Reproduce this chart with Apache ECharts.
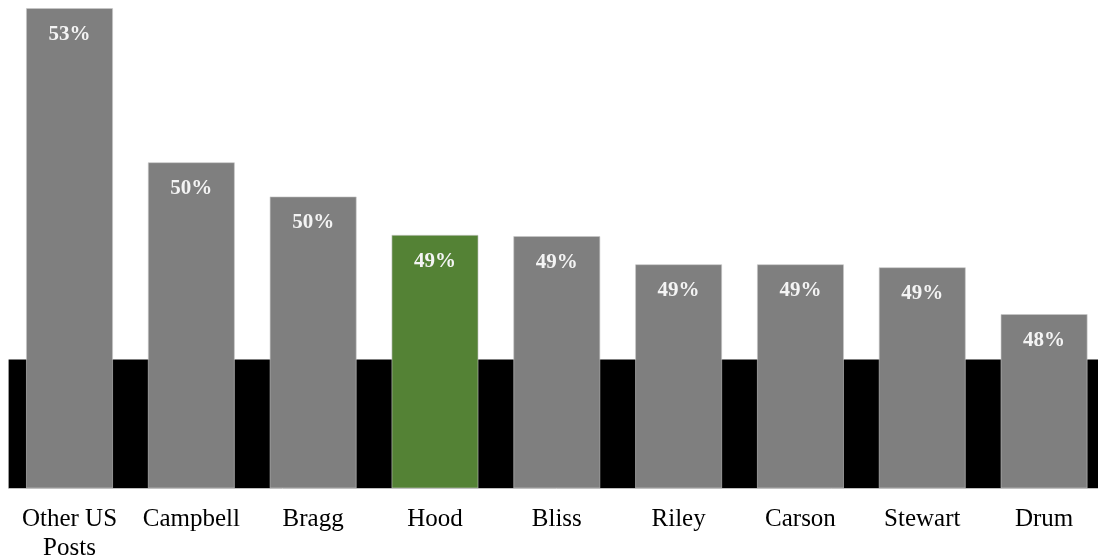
<!DOCTYPE html>
<html>
<head>
<meta charset="utf-8">
<script src="https://cdn.jsdelivr.net/npm/echarts@6/dist/echarts.min.js"></script>
<style>
  html, body { margin: 0; padding: 0; background: #ffffff; overflow: hidden; }
  #chart { width: 1105px; height: 556px; }
</style>
</head>
<body>
<div id="chart"></div>
<script>
// Share by installation (percent)
const posts = ['Other US\nPosts', 'Campbell', 'Bragg', 'Hood', 'Bliss', 'Riley', 'Carson', 'Stewart', 'Drum'];
const shares = [53.0, 50.43, 49.86, 49.22, 49.2, 48.73, 48.73, 48.68, 47.9];
const highlighted = 'Hood';
// Reference band drawn behind the bars
const bandTop = 47.14;
const axisMin = 45;
const axisMax = 53;

const GREY = '#7f7f7f';
const GREEN = '#548235';
const SERIF = '"Liberation Serif", "DejaVu Serif", serif';

const chart = echarts.init(document.getElementById('chart'), null, { renderer: 'canvas' });

chart.setOption({
  animation: false,
  backgroundColor: '#ffffff',
  grid: { left: 8.6, right: 0, top: 8, bottom: 68, containLabel: false, outerBoundsMode: 'none' },
  xAxis: {
    type: 'category',
    data: posts,
    axisLine: { show: true, lineStyle: { color: '#bfbfbf', width: 1 } },
    axisTick: { show: false },
    axisLabel: {
      color: '#000000',
      fontFamily: SERIF,
      fontSize: 25,
      lineHeight: 29,
      margin: 17,
      interval: 0
    }
  },
  yAxis: {
    type: 'value',
    min: axisMin,
    max: axisMax,
    show: false,
    splitLine: { show: false }
  },
  series: [{
    type: 'bar',
    data: shares.map((v, i) => ({
      value: v,
      itemStyle: { color: posts[i] === highlighted ? GREEN : GREY }
    })),
    barCategoryGap: '28.5%',
    itemStyle: { borderColor: 'rgba(200,200,200,0.6)', borderWidth: 1 },
    label: {
      show: true,
      position: 'insideTop',
      distance: 16,
      color: '#f4f4f4',
      fontFamily: SERIF,
      fontWeight: 'bold',
      fontSize: 21,
      formatter: p => Math.round(p.value) + '%'
    },
    markArea: {
      silent: true,
      itemStyle: { color: '#000000' },
      data: [[{ yAxis: axisMin }, { yAxis: bandTop }]]
    },
    z: 2
  }]
});
</script>
</body>
</html>
